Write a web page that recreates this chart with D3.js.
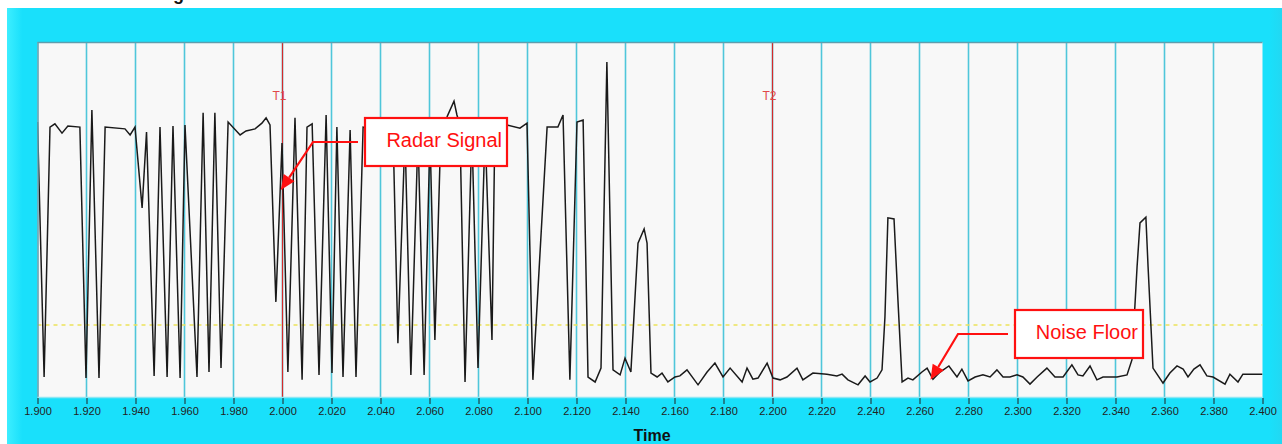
<!DOCTYPE html>
<html>
<head>
<meta charset="utf-8">
<script src="https://cdn.jsdelivr.net/npm/d3@7"></script>
<style>
  html, body { margin: 0; padding: 0; background: #ffffff; }
  svg { display: block; }
</style>
</head>
<body>
<div id="chart"></div>
<script>
// signal vertices (time in s, amplitude in % of plot height)
let times = [
  1.9000, 1.9027, 1.9051, 1.9071, 1.9100, 1.9124, 1.9173, 1.9198, 1.9222, 1.9251,
  1.9276, 1.9357, 1.9378, 1.9398, 1.9427, 1.9445, 1.9476, 1.9500, 1.9529, 1.9553,
  1.9582, 1.9602, 1.9651, 1.9676, 1.9700, 1.9724, 1.9749, 1.9778, 1.9827, 1.9851,
  1.9888, 1.9916, 1.9933, 1.9949, 1.9973, 1.9998, 2.0022, 2.0051, 2.0080, 2.0100,
  2.0121, 2.0149, 2.0178, 2.0202, 2.0222, 2.0247, 2.0276, 2.0300, 2.0329, 2.0398,
  2.0451, 2.0471, 2.0500, 2.0524, 2.0553, 2.0578, 2.0602, 2.0622, 2.0647, 2.0671,
  2.0700, 2.0712, 2.0724, 2.0745, 2.0773, 2.0798, 2.0827, 2.0855, 2.0867, 2.0916,
  2.0969, 2.0998, 2.1022, 2.1080, 2.1124, 2.1145, 2.1173, 2.1202, 2.1227, 2.1247,
  2.1276, 2.1300, 2.1324, 2.1349, 2.1378, 2.1398, 2.1422, 2.1451, 2.1476, 2.1488,
  2.1504, 2.1529, 2.1549, 2.1573, 2.1602, 2.1622, 2.1651, 2.1696, 2.1733, 2.1765,
  2.1798, 2.1827, 2.1876, 2.1896, 2.1920, 2.1941, 2.1978, 2.2002, 2.2031, 2.2059,
  2.2100, 2.2124, 2.2165, 2.2222, 2.2263, 2.2284, 2.2308, 2.2349, 2.2378, 2.2398,
  2.2427, 2.2447, 2.2459, 2.2471, 2.2496, 2.2512, 2.2529, 2.2553, 2.2573, 2.2610,
  2.2631, 2.2655, 2.2684, 2.2720, 2.2753, 2.2773, 2.2798, 2.2827, 2.2859, 2.2888,
  2.2916, 2.2941, 2.2969, 2.2998, 2.3022, 2.3051, 2.3080, 2.3120, 2.3153, 2.3186,
  2.3222, 2.3247, 2.3267, 2.3296, 2.3324, 2.3349, 2.3406, 2.3447, 2.3467, 2.3488,
  2.3500, 2.3524, 2.3533, 2.3553, 2.3594, 2.3622, 2.3651, 2.3676, 2.3696, 2.3720,
  2.3745, 2.3773, 2.3798, 2.3847, 2.3867, 2.3900, 2.3920, 2.3990, 2.4000
];
let amplitude = [
  77.5, 5.9, 76.1, 77.0, 74.4, 76.4, 76.1, 5.6, 80.9, 5.6,
  76.1, 75.6, 73.9, 76.1, 53.4, 74.7, 6.2, 76.1, 5.9, 76.4,
  5.6, 76.7, 5.9, 80.1, 7.3, 80.1, 8.4, 77.5, 73.9, 75.0,
  75.6, 77.2, 78.7, 76.7, 27.0, 71.6, 7.3, 78.7, 5.1, 76.1,
  77.0, 6.5, 79.5, 7.0, 76.1, 5.9, 75.3, 5.9, 76.1, 75.3,
  75.8, 15.4, 73.9, 6.5, 73.9, 6.5, 73.9, 16.3, 76.7, 78.9,
  83.4, 79.5, 76.7, 4.5, 75.3, 8.4, 75.3, 16.3, 76.7, 76.7,
  75.8, 77.2, 5.1, 76.1, 76.1, 79.5, 5.1, 77.5, 78.1, 5.9,
  4.5, 8.4, 94.4, 7.9, 6.5, 11.2, 7.3, 43.5, 47.5, 43.5,
  7.0, 5.9, 7.0, 4.5, 5.9, 6.2, 7.9, 3.7, 7.3, 9.8,
  5.9, 8.4, 4.5, 8.4, 5.3, 5.6, 9.8, 5.6, 5.1, 5.9,
  8.4, 5.1, 7.0, 6.7, 6.2, 6.7, 5.1, 3.7, 6.2, 4.5,
  5.6, 7.9, 22.8, 50.6, 50.3, 27.5, 4.5, 5.6, 5.1, 7.3,
  8.4, 5.3, 7.3, 9.0, 5.9, 8.1, 4.8, 5.9, 6.5, 5.9,
  7.9, 5.9, 5.9, 6.5, 5.9, 3.9, 5.9, 8.4, 5.9, 5.9,
  9.3, 6.5, 6.2, 9.0, 5.1, 5.9, 5.9, 6.5, 10.7, 36.8,
  49.2, 50.8, 36.8, 8.4, 4.2, 7.0, 9.0, 8.1, 5.9, 8.1,
  9.3, 6.2, 5.9, 3.9, 6.7, 4.5, 6.7, 6.7, 6.7
];

let xTicks = [1.90, 1.92, 1.94, 1.96, 1.98, 2.00, 2.02, 2.04, 2.06, 2.08, 2.10, 2.12, 2.14,
  2.16, 2.18, 2.20, 2.22, 2.24, 2.26, 2.28, 2.30, 2.32, 2.34, 2.36, 2.38, 2.40];

let cursorNames = ["T1", "T2"];
let cursorTimes = [2.000, 2.200];

let noiseThreshold = 20.5;

let annotationText = ["Radar Signal", "Noise Floor"];
let annotationTipTime = [1.9993, 2.2645];
let annotationTipAmp = [58.4, 5.1];

let svgWidth = 1282;
let svgHeight = 444;

let plot = { left: 37.5, right: 1262.5, top: 42, bottom: 398 };

let svg = d3.select("#chart")
    .append("svg")
    .attr("width", svgWidth)
    .attr("height", svgHeight);

let defs = svg.append("defs");
let grad = defs.append("linearGradient")
    .attr("id", "frameGrad")
    .attr("x1", "0").attr("x2", "1").attr("y1", "0").attr("y2", "0");
grad.append("stop").attr("offset", "0").attr("stop-color", "#3deeff");
grad.append("stop").attr("offset", "0.012").attr("stop-color", "#19e0fb");
grad.append("stop").attr("offset", "0.99").attr("stop-color", "#19e0fb");
grad.append("stop").attr("offset", "1").attr("stop-color", "#22d8f2");

defs.append("clipPath").attr("id", "plotClip")
    .append("rect")
    .attr("x", plot.left).attr("y", plot.top)
    .attr("width", plot.right - plot.left).attr("height", plot.bottom - plot.top);

// window title, cut off by the top of the screenshot (only the "g" tail shows)
svg.append("text")
    .attr("x", 100)
    .attr("y", 0)
    .attr("font-family", "Arial, 'Liberation Sans', sans-serif")
    .attr("font-weight", "bold")
    .attr("font-size", "18px")
    .attr("fill", "#111")
    .text("Radar Signal");

// cyan frame
svg.append("rect")
    .attr("x", 7).attr("y", 8)
    .attr("width", svgWidth - 7).attr("height", svgHeight - 8)
    .attr("fill", "url(#frameGrad)");

svg.append("rect")
    .attr("x", plot.left).attr("y", plot.top)
    .attr("width", plot.right - plot.left).attr("height", plot.bottom - plot.top)
    .attr("fill", "#f8f8f8");

let xScale = d3.scaleLinear()
    .domain([1.9, 2.4])
    .range([plot.left, plot.right]);

let yScale = d3.scaleLinear()
    .domain([0, 100])
    .range([plot.bottom, plot.top]);

let chartGroup = svg.append("g").attr("clip-path", "url(#plotClip)");

// vertical grid
chartGroup.selectAll(".grid")
    .data(xTicks.slice(1, -1))
    .enter()
    .append("line")
    .attr("class", "grid")
    .attr("x1", d => xScale(d)).attr("x2", d => xScale(d))
    .attr("y1", plot.top).attr("y2", plot.bottom)
    .attr("stroke", "#4fc6da")
    .attr("stroke-width", 1.6);

// noise threshold
chartGroup.append("line")
    .attr("x1", plot.left).attr("x2", plot.right)
    .attr("y1", yScale(noiseThreshold)).attr("y2", yScale(noiseThreshold))
    .attr("stroke", "#ece25a")
    .attr("stroke-width", 1.5)
    .attr("stroke-dasharray", "4,4");

// cursors
chartGroup.selectAll(".cursor")
    .data(cursorTimes)
    .enter()
    .append("line")
    .attr("class", "cursor")
    .attr("x1", d => xScale(d)).attr("x2", d => xScale(d))
    .attr("y1", plot.top).attr("y2", plot.bottom)
    .attr("stroke", "#d42a2a")
    .attr("stroke-width", 1.2);

chartGroup.selectAll(".cursorLabel")
    .data(cursorNames)
    .enter()
    .append("text")
    .attr("x", (d, i) => xScale(cursorTimes[i]) - 3)
    .attr("y", 100)
    .attr("text-anchor", "middle")
    .attr("font-family", "Arial, 'Liberation Sans', sans-serif")
    .attr("font-size", "12px")
    .attr("fill", "#e04848")
    .text(d => d);

// signal trace
let line = d3.line()
    .x(d => xScale(d[0]))
    .y(d => yScale(d[1]));

chartGroup.append("path")
    .datum(times.map((t, i) => [t, amplitude[i]]))
    .attr("d", line)
    .attr("fill", "none")
    .attr("stroke", "#1a1a1a")
    .attr("stroke-width", 1.5)
    .attr("stroke-linejoin", "miter");

// plot border
svg.append("line")
    .attr("x1", plot.left).attr("x2", plot.right)
    .attr("y1", plot.top + 0.5).attr("y2", plot.top + 0.5)
    .attr("stroke", "#5e9eae").attr("stroke-width", 1.5);
svg.append("line")
    .attr("x1", plot.left + 0.5).attr("x2", plot.left + 0.5)
    .attr("y1", plot.top).attr("y2", plot.bottom)
    .attr("stroke", "#5e9eae").attr("stroke-width", 1.5);
svg.append("line")
    .attr("x1", plot.left).attr("x2", plot.right)
    .attr("y1", plot.bottom - 0.5).attr("y2", plot.bottom - 0.5)
    .attr("stroke", "#8ee6f2").attr("stroke-width", 1.5);

// x axis
let bottomAxis = d3.axisBottom(xScale)
    .tickValues(xTicks)
    .tickFormat(d3.format(".3f"))
    .tickSize(6)
    .tickSizeOuter(0);

let axisGroup = svg.append("g")
    .attr("transform", `translate(0, ${plot.bottom})`)
    .call(bottomAxis);

axisGroup.select(".domain").remove();
axisGroup.selectAll(".tick line").attr("stroke", "#222");
axisGroup.selectAll(".tick text")
    .attr("font-family", "Arial, 'Liberation Sans', sans-serif")
    .attr("font-size", "11px")
    .attr("fill", "#222")
    .attr("y", 9);

svg.append("text")
    .attr("x", (plot.left + plot.right) / 2 + 2)
    .attr("y", 441)
    .attr("text-anchor", "middle")
    .attr("font-family", "Arial, 'Liberation Sans', sans-serif")
    .attr("font-weight", "bold")
    .attr("font-size", "16px")
    .attr("fill", "#111")
    .text("Time");

// annotations: box + elbow arrow pointing to the trace
let annGroup = svg.append("g");
let boxes = [
  { x: 365, y: 118, w: 142, h: 48, elbowX: 313 },
  { x: 1015, y: 310, w: 128, h: 48, elbowX: 958 }
];

annotationText.forEach(function (label, i) {
    let b = boxes[i];
    let tipX = xScale(annotationTipTime[i]);
    let tipY = yScale(annotationTipAmp[i]);
    let midY = b.y + b.h / 2;
    let startX = b.x - 7;

    let dx = tipX - b.elbowX, dy = tipY - midY;
    let len = Math.sqrt(dx * dx + dy * dy);
    let ux = dx / len, uy = dy / len;
    let headLen = 15, headW = 6.5;
    let baseX = tipX - ux * headLen, baseY = tipY - uy * headLen;

    annGroup.append("path")
        .attr("d", `M${startX},${midY}L${b.elbowX},${midY}L${baseX},${baseY}`)
        .attr("fill", "none")
        .attr("stroke", "#ff1010")
        .attr("stroke-width", 2.2);

    annGroup.append("path")
        .attr("d", `M${tipX},${tipY}L${baseX - uy * headW},${baseY + ux * headW}L${baseX + uy * headW},${baseY - ux * headW}Z`)
        .attr("fill", "#ff1010");

    annGroup.append("rect")
        .attr("x", b.x).attr("y", b.y)
        .attr("width", b.w).attr("height", b.h)
        .attr("fill", "#ffffff")
        .attr("stroke", "#ff1010")
        .attr("stroke-width", 2.2);

    annGroup.append("text")
        .attr("x", b.x + b.w - 5)
        .attr("y", b.y + 29)
        .attr("text-anchor", "end")
        .attr("font-family", "Arial, 'Liberation Sans', sans-serif")
        .attr("font-size", "20px")
        .attr("fill", "#ff1010")
        .text(label);
});
</script>
</body>
</html>
